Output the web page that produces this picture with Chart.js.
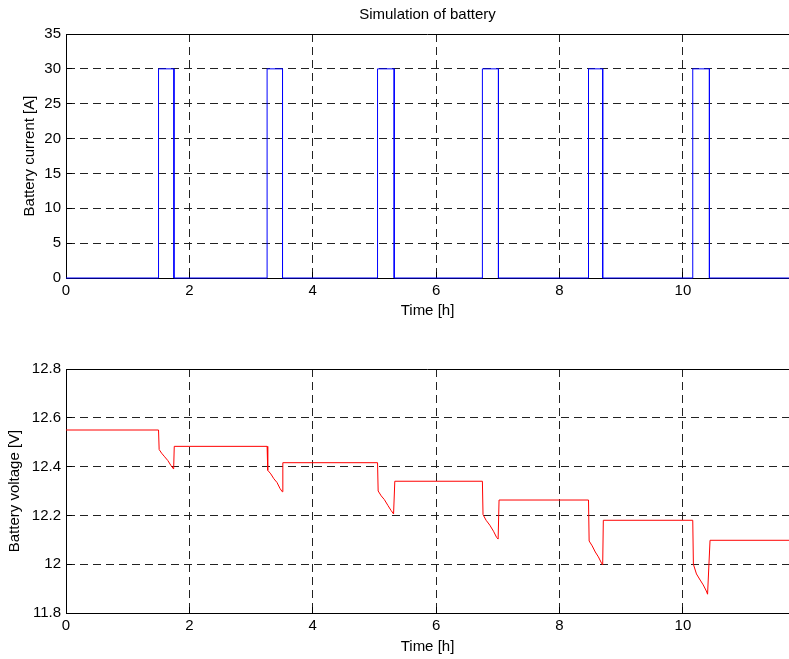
<!DOCTYPE html>
<html>
<head>
<meta charset="utf-8">
<script src="https://cdn.jsdelivr.net/npm/chart.js@4.4.1/dist/chart.umd.min.js"></script>
<style>
  body { margin: 0; background: #fff; }
  .panel { position: absolute; left: 0; width: 789px; }
  #panel-current { top: 0; height: 330px; }
  #panel-voltage { top: 330px; height: 329px; }
</style>
</head>
<body>
<div class="panel" id="panel-current"><canvas id="chart-current"></canvas></div>
<div class="panel" id="panel-voltage"><canvas id="chart-voltage"></canvas></div>
<script>
const timeTicks = [0, 2, 4, 6, 8, 10];
const timeMax = 11.72;

const currentTicks = [0, 5, 10, 15, 20, 25, 30, 35];
const currentTime = [0,
  1.50, 1.50, 1.75, 1.75,
  3.26, 3.26, 3.51, 3.51,
  5.05, 5.05, 5.32, 5.32,
  6.75, 6.75, 7.01, 7.01,
  8.47, 8.47, 8.70, 8.70,
  10.16, 10.16, 10.43, 10.43,
  11.72];
const currentValue = [0,
  0, 30, 30, 0,
  0, 30, 30, 0,
  0, 30, 30, 0,
  0, 30, 30, 0,
  0, 30, 30, 0,
  0, 30, 30, 0,
  0];

const voltageTicks = [11.8, 12, 12.2, 12.4, 12.6, 12.8];
const voltageTime = [0,
  1.50, 1.51, 1.55, 1.60, 1.65, 1.70, 1.745, 1.755,
  3.26, 3.27, 3.32, 3.37, 3.42, 3.47, 3.505, 3.515,
  5.05, 5.06, 5.11, 5.16, 5.22, 5.27, 5.31, 5.33,
  6.75, 6.76, 6.81, 6.87, 6.93, 6.98, 7.005, 7.02,
  8.47, 8.48, 8.53, 8.58, 8.63, 8.68, 8.70, 8.71,
  10.16, 10.17, 10.22, 10.28, 10.33, 10.38, 10.40, 10.44,
  11.72];
const voltageValue = [12.55,
  12.55, 12.47, 12.455, 12.44, 12.425, 12.405, 12.39, 12.483,
  12.483, 12.385, 12.37, 12.35, 12.335, 12.31, 12.297, 12.416,
  12.416, 12.30, 12.28, 12.265, 12.24, 12.22, 12.206, 12.34,
  12.34, 12.203, 12.18, 12.16, 12.135, 12.11, 12.103, 12.263,
  12.263, 12.095, 12.075, 12.05, 12.03, 12.005, 11.997, 12.18,
  12.18, 12.0, 11.96, 11.935, 11.915, 11.89, 11.877, 12.098,
  12.098];

const fonte = { family: '"Liberation Sans", Arial, Helvetica, sans-serif', size: 15, weight: 'normal' };

// MATLAB box: solid line on top of the axes
const topFrame = {
  id: 'topFrame',
  beforeDatasetsDraw(chart) {
    const { ctx, chartArea } = chart;
    ctx.save();
    ctx.strokeStyle = '#000';
    ctx.lineWidth = 1;
    ctx.beginPath();
    ctx.moveTo(chartArea.left, chartArea.top + 0.5);
    ctx.lineTo(chartArea.right, chartArea.top + 0.5);
    ctx.stroke();
    ctx.restore();
  }
};

function axisStyle(ticks, min, max, label, titlePadding, isX, fitSize) {
  return {
    type: 'linear',
    min: min,
    max: max,
    afterBuildTicks: scale => { scale.ticks = ticks.map(v => ({ value: v })); },
    afterFit: scale => {
      if (isX) scale.height = fitSize;
      else scale.width = fitSize;
    },
    ticks: {
      color: '#000',
      font: fonte,
      padding: isX ? 10 : 11,
      maxRotation: 0,
      callback: v => String(+v.toFixed(1))
    },
    grid: {
      color: '#222',
      lineWidth: 1,
      drawTicks: true,
      tickLength: -6,
      tickColor: '#000',
      tickBorderDash: [],
      borderDash: [8, 5]
    },
    border: { display: true, color: '#000', width: 1, dash: [8, 5] },
    title: {
      display: true,
      text: label,
      color: '#000',
      font: fonte,
      padding: titlePadding
    }
  };
}

function createChart(canvasId, xs, ys, color, yOpts, layoutPadding, titleText) {
  const points = xs.map((x, i) => ({ x: x, y: ys[i] }));
  return new Chart(document.getElementById(canvasId), {
    type: 'line',
    data: {
      datasets: [{
        data: points,
        borderColor: color,
        borderWidth: 1,
        pointRadius: 0,
        tension: 0,
        fill: false,
        clip: false
      }]
    },
    options: {
      responsive: true,
      maintainAspectRatio: false,
      animation: false,
      layout: { padding: layoutPadding },
      plugins: {
        legend: { display: false },
        tooltip: { enabled: false },
        title: titleText ? {
          display: true,
          fullSize: false,
          text: titleText,
          color: '#000',
          font: fonte,
          padding: { top: 6, bottom: 10 }
        } : { display: false }
      },
      scales: {
        x: axisStyle(timeTicks, 0, timeMax, 'Time [h]', yOpts.xTitlePadding, true, yOpts.xHeight),
        y: axisStyle(yOpts.ticks, yOpts.min, yOpts.max, yOpts.label, yOpts.yTitlePadding, false, 66)
      }
    },
    plugins: [topFrame]
  });
}

createChart('chart-current', currentTime, currentValue, '#0000ff', {
  ticks: currentTicks, min: 0, max: 35, label: 'Battery current [A]',
  yTitlePadding: { top: 21, bottom: 0 },
  xTitlePadding: { top: 0, bottom: 10 },
  xHeight: 52
}, { top: 0, left: 0, right: 0, bottom: 0 }, 'Simulation of battery');

createChart('chart-voltage', voltageTime, voltageValue, '#ff0000', {
  ticks: voltageTicks, min: 11.8, max: 12.8, label: 'Battery voltage [V]',
  yTitlePadding: { top: 6, bottom: 0 },
  xTitlePadding: { top: 0, bottom: 3 },
  xHeight: 46
}, { top: 39, left: 0, right: 0, bottom: 0 }, null);
</script>
</body>
</html>
